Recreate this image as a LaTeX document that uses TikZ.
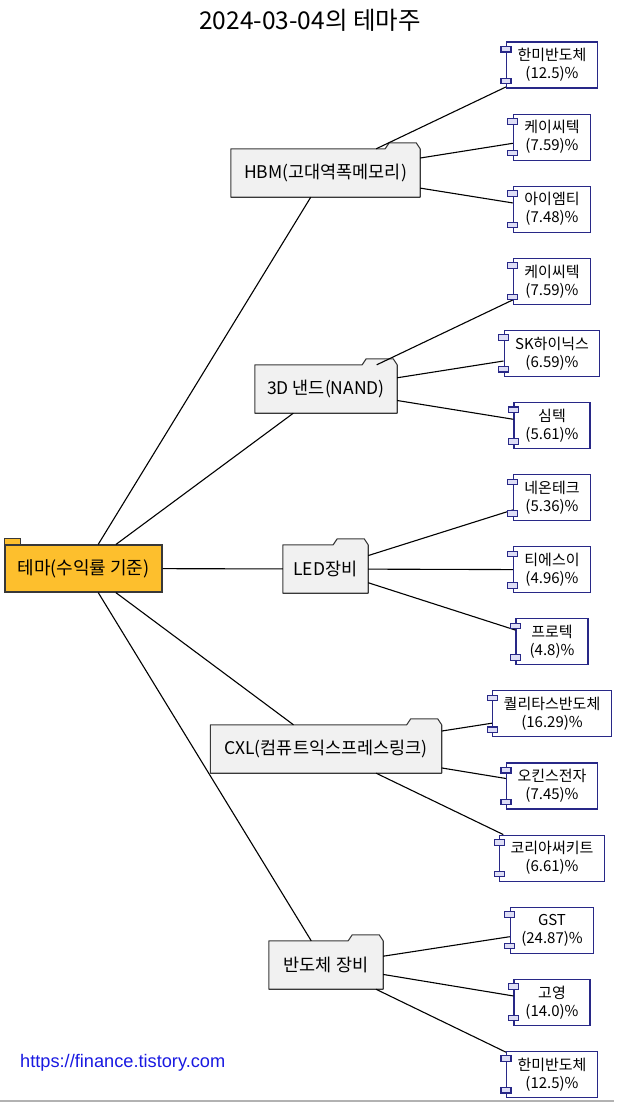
\documentclass[tikz,border=0pt]{standalone}
\usepackage{fontspec}
\setmainfont{Noto Sans CJK KR}
\newfontfamily\urlfont{Liberation Sans}
\usetikzlibrary{positioning,calc,backgrounds}
\pgfdeclarelayer{foreground}
\pgfsetlayers{background,main,foreground}
\definecolor{rootorange}{RGB}{253,191,45}
\definecolor{themegray}{RGB}{241,241,241}
\definecolor{edgegray}{RGB}{56,56,56}
\definecolor{stocknavy}{RGB}{40,40,135}
\definecolor{portlilac}{RGB}{222,222,246}
\definecolor{urlblue}{RGB}{25,25,225}

\begin{document}
\begin{tikzpicture}[
 x=1pt, y=-1pt,
 root/.style={rectangle, draw=edgegray, fill=rootorange, line width=1.1pt, minimum width=157pt, minimum height=47pt, font=\fontsize{18}{21}\selectfont,
  append after command={\pgfextra{\draw[draw=edgegray, fill=rootorange, line width=1.1pt] (\tikzlastnode.north west) rectangle ([xshift=16pt,yshift=6pt]\tikzlastnode.north west);}}},
 theme/.style={rectangle, minimum height=48pt, font=\fontsize{17.5}{20}\selectfont,
  append after command={\pgfextra{\begin{pgfonlayer}{background}
   \draw[draw=edgegray, fill=themegray, line width=1.1pt, line join=round] (\tikzlastnode.south west) -- (\tikzlastnode.north west)
    -- ([xshift=-35pt]\tikzlastnode.north east) -- ([xshift=-31pt,yshift=6pt]\tikzlastnode.north east)
    -- ([xshift=-4pt,yshift=6pt]\tikzlastnode.north east) -- (\tikzlastnode.north east) -- (\tikzlastnode.south east) -- cycle;
   \end{pgfonlayer}}}},
 stock/.style={rectangle, draw=stocknavy, fill=white, line width=1.1pt, inner xsep=11pt, minimum width=76pt, minimum height=46pt, align=center, font=\fontsize{15}{18}\selectfont,
  append after command={\pgfextra{\begin{pgfonlayer}{foreground}
   \draw[port] ([xshift=-5pt,yshift=-5pt]\tikzlastnode.north west) rectangle ([xshift=5pt,yshift=-10.5pt]\tikzlastnode.north west);
   \draw[port] ([xshift=-5pt,yshift=5pt]\tikzlastnode.south west) rectangle ([xshift=5pt,yshift=10.5pt]\tikzlastnode.south west);
   \end{pgfonlayer}}}},
 port/.style={draw=stocknavy, fill=portlilac, line width=1.1pt},
 link/.style={draw=black, line width=1.1pt}
]
\useasboundingbox (0,0) rectangle (621,1103);

% Title
\node[font=\fontsize{24.5}{28}\selectfont] (title) at (310,20) {2024-03-04의 테마주};

% Root
\node[root] (theme_root) at (83.5,568.5) {테마(수익률 기준)};

% Themes
\node[theme, minimum width=189pt] (hbm) at (325.5,173) {HBM(고대역폭메모리)};
\node[theme, minimum width=142pt] (nand) at (326,389) {3D 낸드(NAND)};
\node[theme, minimum width=85pt] (led) at (325.5,569) {LED장비};
\node[theme, minimum width=231pt] (cxl) at (326,749) {CXL(컴퓨트익스프레스링크)};
\node[theme, minimum width=114pt] (semi_eq) at (326,965) {반도체 장비};

% Stocks
\node[stock] (hbm_hanmi) at (552,65) {한미반도체\\(12.5)\%};
\node[stock, below=25pt of hbm_hanmi] (hbm_kc) {케이씨텍\\(7.59)\%};
\node[stock, below=25pt of hbm_kc] (hbm_imt) {아이엠티\\(7.48)\%};
\node[stock, below=25pt of hbm_imt] (nand_kc) {케이씨텍\\(7.59)\%};
\node[stock, below=25pt of nand_kc] (nand_sk) {SK하이닉스\\(6.59)\%};
\node[stock, below=25pt of nand_sk] (nand_simm) {심텍\\(5.61)\%};
\node[stock, below=25pt of nand_simm] (led_neon) {네온테크\\(5.36)\%};
\node[stock, below=25pt of led_neon] (led_tse) {티에스이\\(4.96)\%};
\node[stock, below=25pt of led_tse, minimum width=72pt] (led_protec) {프로텍\\(4.8)\%};
\node[stock, below=25pt of led_protec] (cxl_qual) {퀄리타스반도체\\(16.29)\%};
\node[stock, below=25pt of cxl_qual] (cxl_okins) {오킨스전자\\(7.45)\%};
\node[stock, below=25pt of cxl_okins] (cxl_korea) {코리아써키트\\(6.61)\%};
\node[stock, below=25pt of cxl_korea, minimum width=83pt] (semi_gst) {GST\\(24.87)\%};
\node[stock, below=25pt of semi_gst] (semi_koh) {고영\\(14.0)\%};
\node[stock, below=25pt of semi_koh] (semi_hanmi) {한미반도체\\(12.5)\%};

% Source
\node[font=\urlfont\fontsize{18.2}{21}\selectfont, text=urlblue, anchor=west, inner sep=0pt] (source) at (20,1063) {https://finance.tistory.com};

% Links
\draw[link] (theme_root) -- (hbm);
\draw[link] (theme_root) -- (nand);
\draw[link] (theme_root) -- (led);
\draw[link] (theme_root) -- (cxl);
\draw[link] (theme_root) -- (semi_eq);

\draw[link] (hbm) -- (hbm_hanmi);
\draw[link] (hbm) -- (hbm_kc);
\draw[link] (hbm) -- (hbm_imt);
\draw[link] (nand) -- (nand_kc);
\draw[link] (nand) -- (nand_sk);
\draw[link] (nand) -- (nand_simm);
\draw[link] (led) -- (led_neon);
\draw[link] (led) -- (led_tse);
\draw[link] (led) -- (led_protec);
\draw[link] (cxl) -- (cxl_qual);
\draw[link] (cxl) -- (cxl_okins);
\draw[link] (cxl) -- (cxl_korea);
\draw[link] (semi_eq) -- (semi_gst);
\draw[link] (semi_eq) -- (semi_koh);
\draw[link] (semi_eq) -- (semi_hanmi);

% Bottom rule
\draw[gray!60, line width=1.5pt] (0,1101) -- (614,1101);

\end{tikzpicture}
\end{document}
